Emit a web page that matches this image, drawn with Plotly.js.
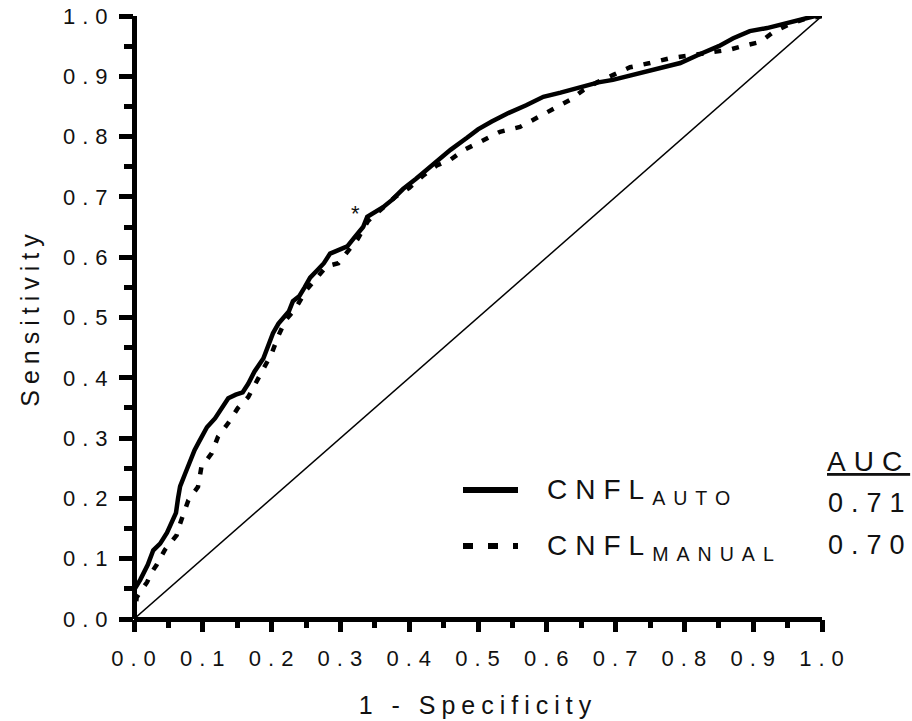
<!DOCTYPE html>
<html>
<head>
<meta charset="utf-8">
<script src="https://cdn.plot.ly/plotly-3.0.1.min.js"></script>
<style>
  html, body { margin: 0; padding: 0; background: #fff; }
  #chart { width: 912px; height: 721px; }
  .xtick text, .ytick text { letter-spacing: 7px; }
  .g-xtitle text, .g-ytitle text { letter-spacing: 6px; }
  .annotation-text { letter-spacing: 8px; }
  g.annotation[data-index="5"] .annotation-text { letter-spacing: 0px; }
</style>
</head>
<body>
<div id="chart"></div>
<script>
// ---- data ----
const fprAuto = [0, 0, 0.009, 0.02, 0.028, 0.038, 0.048, 0.055, 0.061, 0.064, 0.067, 0.074, 0.081, 0.088, 0.096, 0.106, 0.118, 0.128, 0.137, 0.148, 0.158, 0.166, 0.175, 0.188, 0.196, 0.202, 0.21, 0.217, 0.225, 0.231, 0.24, 0.248, 0.256, 0.266, 0.276, 0.285, 0.297, 0.31, 0.322, 0.333, 0.339, 0.35, 0.362, 0.375, 0.391, 0.41, 0.425, 0.44, 0.46, 0.484, 0.5, 0.52, 0.542, 0.57, 0.595, 0.62, 0.648, 0.675, 0.696, 0.721, 0.75, 0.794, 0.823, 0.85, 0.871, 0.895, 0.92, 0.943, 0.972, 0.99, 1];
const tprAuto = [0, 0.048, 0.065, 0.09, 0.114, 0.125, 0.143, 0.16, 0.176, 0.2, 0.22, 0.24, 0.262, 0.28, 0.297, 0.318, 0.333, 0.35, 0.366, 0.372, 0.376, 0.39, 0.41, 0.432, 0.455, 0.474, 0.49, 0.5, 0.51, 0.527, 0.535, 0.55, 0.566, 0.578, 0.59, 0.606, 0.612, 0.618, 0.635, 0.65, 0.667, 0.675, 0.683, 0.695, 0.713, 0.73, 0.745, 0.76, 0.778, 0.798, 0.812, 0.825, 0.838, 0.852, 0.866, 0.873, 0.882, 0.89, 0.894, 0.901, 0.91, 0.922, 0.937, 0.95, 0.963, 0.975, 0.98, 0.986, 0.995, 1.0, 1];

const fprManual = [0, 0.004, 0.012, 0.019, 0.026, 0.033, 0.045, 0.055, 0.062, 0.066, 0.07, 0.079, 0.093, 0.098, 0.113, 0.122, 0.137, 0.151, 0.166, 0.179, 0.19, 0.2, 0.21, 0.22, 0.235, 0.25, 0.265, 0.28, 0.297, 0.31, 0.325, 0.34, 0.36, 0.38, 0.4, 0.42, 0.44, 0.459, 0.48, 0.507, 0.532, 0.561, 0.586, 0.609, 0.634, 0.653, 0.673, 0.696, 0.721, 0.75, 0.779, 0.81, 0.84, 0.865, 0.881, 0.91, 0.929, 0.95, 0.975, 1];
const tprManual = [0, 0.036, 0.05, 0.061, 0.078, 0.09, 0.115, 0.13, 0.139, 0.155, 0.169, 0.197, 0.219, 0.252, 0.275, 0.302, 0.325, 0.35, 0.368, 0.396, 0.42, 0.44, 0.47, 0.495, 0.515, 0.545, 0.565, 0.585, 0.59, 0.61, 0.63, 0.66, 0.68, 0.7, 0.715, 0.735, 0.752, 0.761, 0.778, 0.794, 0.808, 0.816, 0.831, 0.844, 0.861, 0.877, 0.89, 0.902, 0.915, 0.922, 0.93, 0.935, 0.94, 0.944, 0.949, 0.957, 0.973, 0.985, 0.995, 1];

const chanceX = [0, 1];
const chanceY = [0, 1];

const tickVals = [0, 0.1, 0.2, 0.3, 0.4, 0.5, 0.6, 0.7, 0.8, 0.9, 1.0];
const tickText = ['0.0', '0.1', '0.2', '0.3', '0.4', '0.5', '0.6', '0.7', '0.8', '0.9', '1.0'];

const seriesNames = ['CNFL<sub>AUTO</sub>', 'CNFL<sub>MANUAL</sub>'];
const aucHeader = 'AUC';
const aucValues = ['0.71', '0.70'];

const starLabel = '*';
const starX = 0.322;
const starY = 0.672;

// ---- helpers: pixel -> paper coords for the hand-placed legend ----
const L = 134, R = 90, T = 16, B = 102, W = 912, H = 721;
const PW = W - L - R, PH = H - T - B;
const px = v => (v - L) / PW;
const py = v => (H - B - v) / PH;

const font = 'Liberation Sans, Arial, Helvetica, sans-serif';

const traces = [
  { x: chanceX, y: chanceY, mode: 'lines', line: { color: '#000', width: 1.5 }, showlegend: false, hoverinfo: 'skip' },
  { x: fprManual, y: tprManual, mode: 'lines', line: { color: '#000', width: 4.5, dash: '7px,11px' }, showlegend: false },
  { x: fprAuto, y: tprAuto, mode: 'lines', line: { color: '#000', width: 4.5 }, showlegend: false }
];

const axisCommon = {
  range: [0, 1],
  tickmode: 'array',
  tickvals: tickVals,
  ticktext: tickText,
  showgrid: false,
  showline: false,
  zeroline: true,
  zerolinecolor: '#000',
  zerolinewidth: 5,
  ticks: 'outside',
  tickcolor: '#000',
  tickwidth: 5,
  tickfont: { family: font, size: 22, color: '#111' },
  automargin: false,
  fixedrange: true
};

const layout = {
  width: W, height: H,
  margin: { l: L, r: R, t: T, b: B, pad: 0 },
  paper_bgcolor: '#fff',
  plot_bgcolor: '#fff',
  showlegend: false,
  font: { family: font, color: '#111' },
  xaxis: Object.assign({}, axisCommon, {
    ticklen: 12,
    minor: { ticks: 'outside', ticklen: 8, tickwidth: 5, tickcolor: '#000', dtick: 0.05, tick0: 0 },
    ticklabelstandoff: 8,
    ticklabelshift: 3,
    title: { text: '1 - Specificity', font: { family: font, size: 25, color: '#111' }, standoff: 26 }
  }),
  yaxis: Object.assign({}, axisCommon, {
    ticklen: 14,
    minor: { ticks: 'outside', ticklen: 9, tickwidth: 5, tickcolor: '#000', dtick: 0.05, tick0: 0 },
    ticklabelstandoff: 0,
    title: { text: 'Sensitivity', font: { family: font, size: 25, color: '#111' }, standoff: 16 }
  }),
  shapes: [
    { type: 'line', xref: 'paper', yref: 'paper', x0: px(463), x1: px(518), y0: py(490), y1: py(490), line: { color: '#000', width: 6 } },
    { type: 'line', xref: 'paper', yref: 'paper', x0: px(463), x1: px(518), y0: py(546), y1: py(546), line: { color: '#000', width: 6, dash: '10px,15px' } }
  ],
  annotations: [
    { xref: 'paper', yref: 'paper', x: px(545), y: py(491), xanchor: 'left', yanchor: 'middle', showarrow: false, text: seriesNames[0], font: { family: font, size: 28, color: '#111' } },
    { xref: 'paper', yref: 'paper', x: px(545), y: py(547), xanchor: 'left', yanchor: 'middle', showarrow: false, text: seriesNames[1], font: { family: font, size: 28, color: '#111' } },
    { xref: 'paper', yref: 'paper', x: px(825), y: py(461), xanchor: 'left', yanchor: 'middle', showarrow: false, text: '<u>' + aucHeader + '</u>', font: { family: font, size: 28, color: '#111' } },
    { xref: 'paper', yref: 'paper', x: px(826), y: py(503), xanchor: 'left', yanchor: 'middle', showarrow: false, text: aucValues[0], font: { family: font, size: 27, color: '#111' } },
    { xref: 'paper', yref: 'paper', x: px(826), y: py(545), xanchor: 'left', yanchor: 'middle', showarrow: false, text: aucValues[1], font: { family: font, size: 27, color: '#111' } },
    { xref: 'x', yref: 'y', x: starX, y: starY, xanchor: 'center', yanchor: 'middle', showarrow: false, text: starLabel, font: { family: font, size: 22, color: '#111' } }
  ]
};

Plotly.newPlot('chart', traces, layout, { staticPlot: true, displayModeBar: false });
</script>
</body>
</html>
